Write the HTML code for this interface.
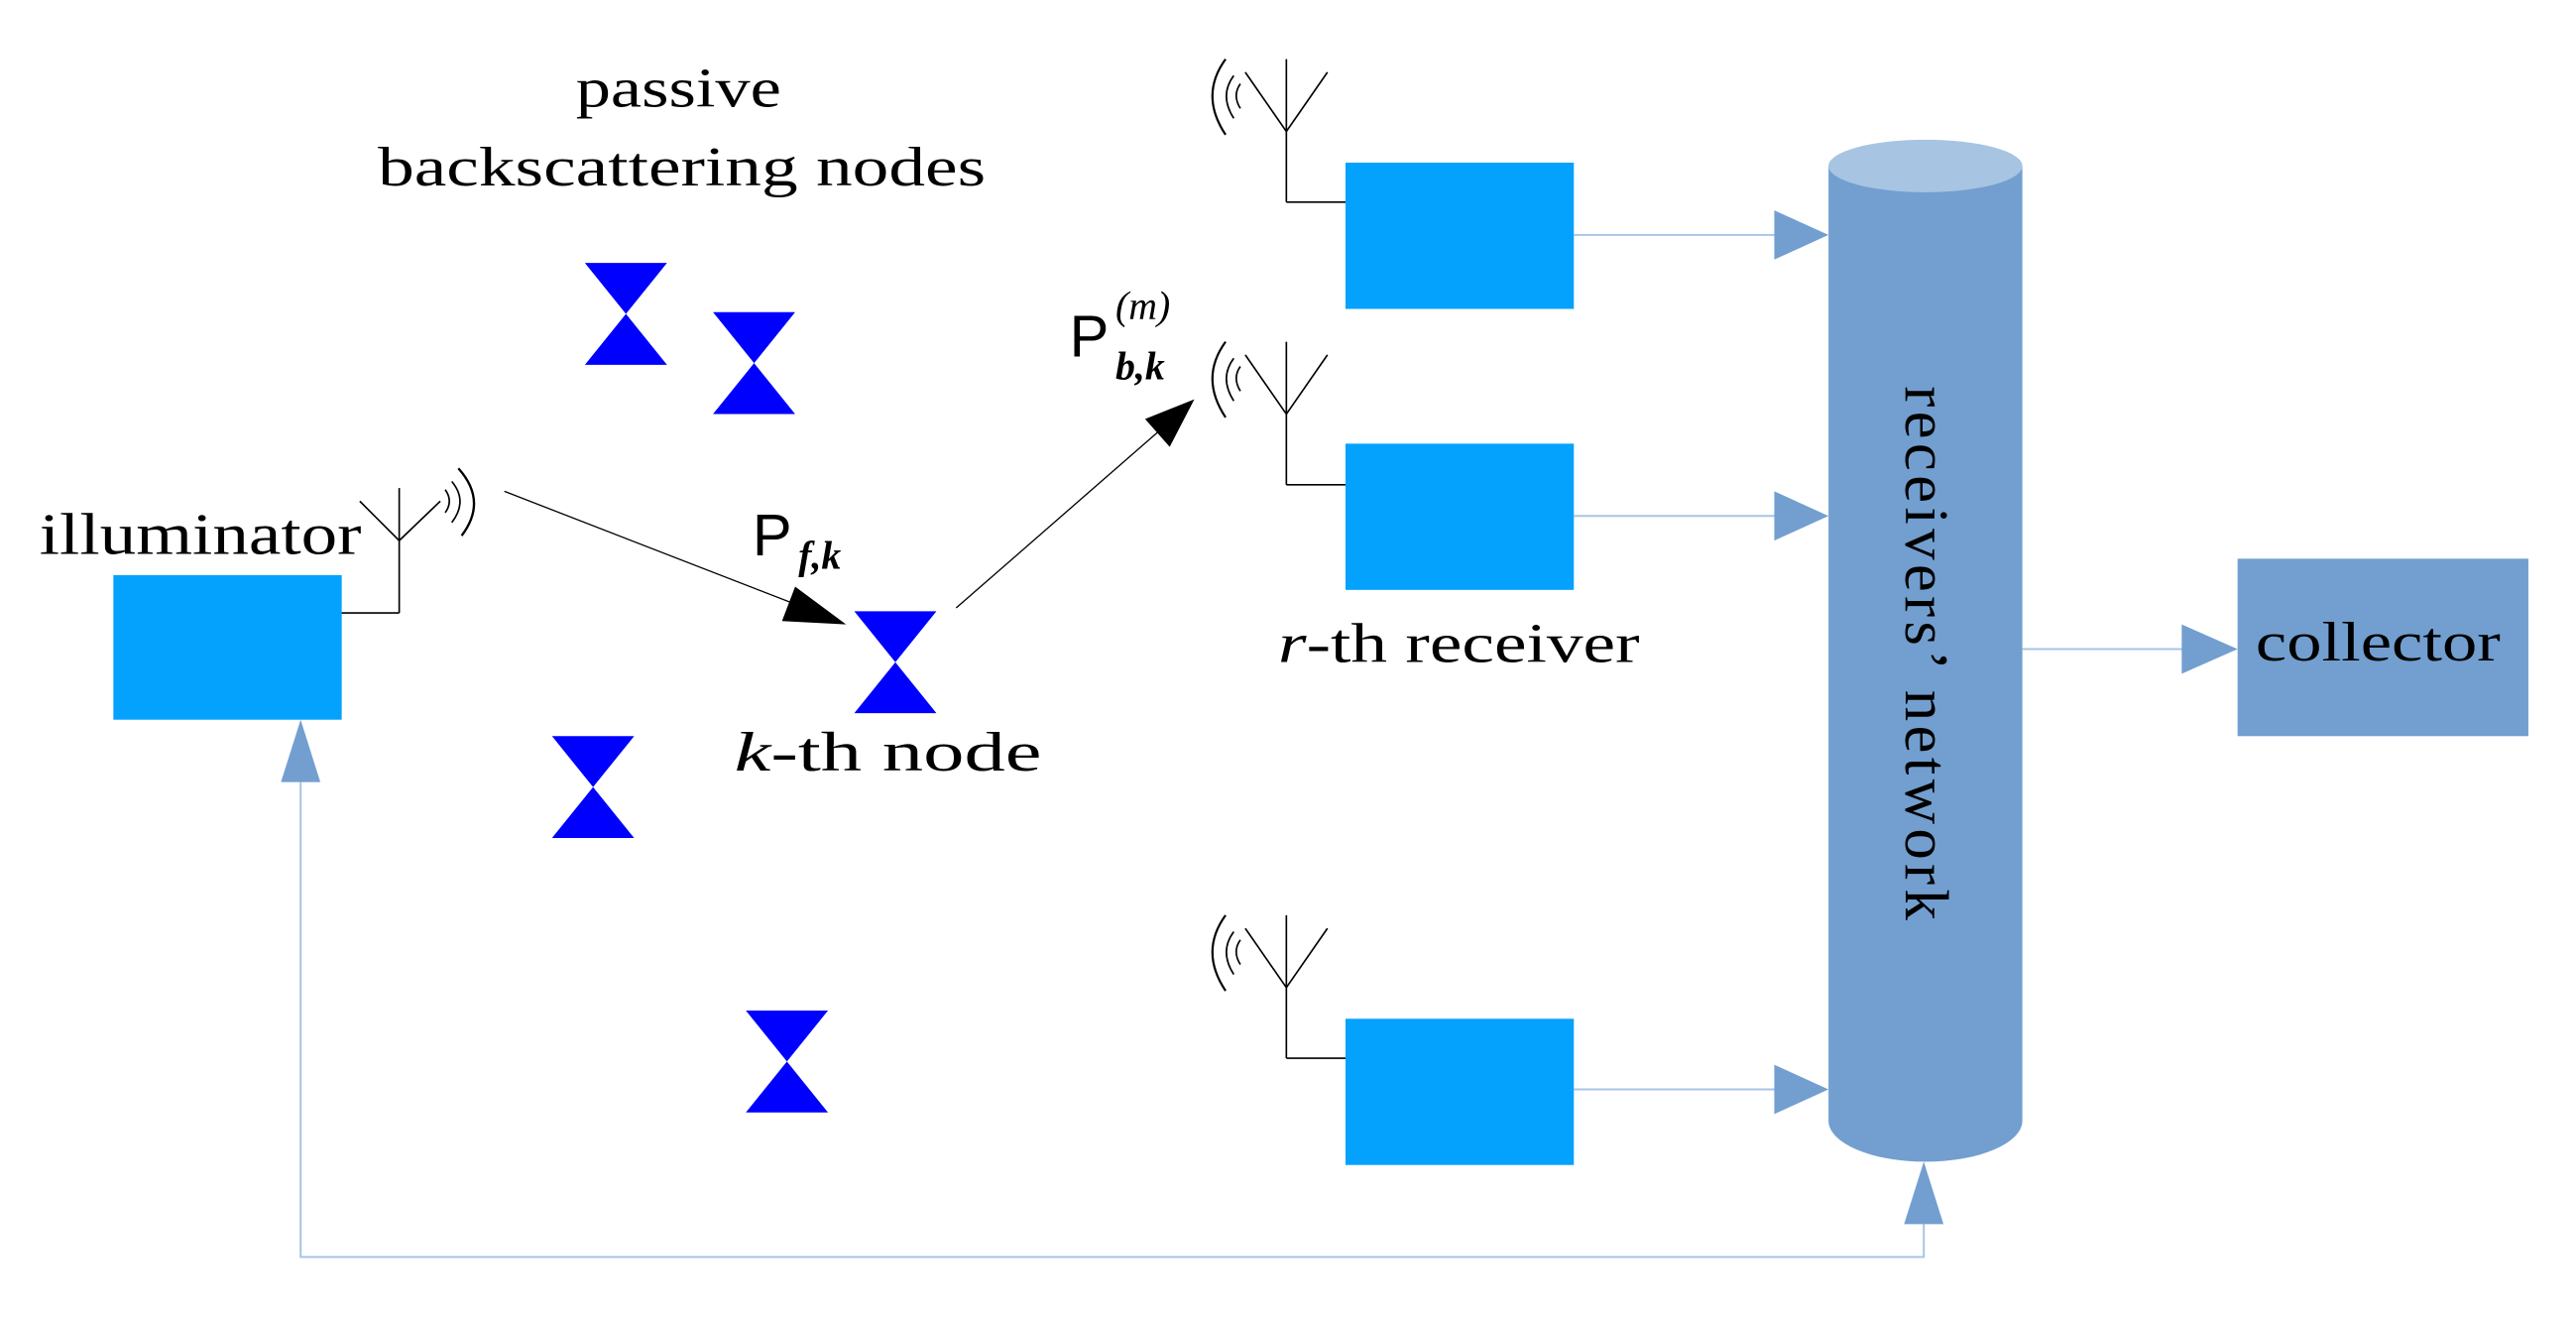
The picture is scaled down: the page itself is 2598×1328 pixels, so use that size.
<!DOCTYPE html>
<html><head><meta charset="utf-8"><style>html,body{margin:0;padding:0;background:#fff}svg{display:block}</style></head>
<body>
<svg width="2598" height="1328" viewBox="0 0 1568 801.5" xmlns="http://www.w3.org/2000/svg">
<defs>
<g id="bt"><polygon points="0,0 50,0 25,31" fill="#0000ff"/><polygon points="0,62 50,62 25,31" fill="#0000ff"/></g>
<g id="rxant" fill="none" stroke="#000" stroke-width="1">
<line x1="758" y1="0" x2="783" y2="36"/><line x1="808" y1="0" x2="783" y2="36"/><line x1="783" y1="-8" x2="783" y2="79"/><line x1="783" y1="79" x2="819" y2="79"/>
<path d="M746,-8 Q730,14 746,38" stroke-width="1.3"/><path d="M751,2 Q742,14 751,28"/><path d="M755,7 Q750,14 755,22"/>
</g>
</defs>
<g font-family="Liberation Serif, serif" fill="#000">
<text x="413" y="65" font-size="34" text-anchor="middle" textLength="125" lengthAdjust="spacingAndGlyphs">passive</text>
<text x="230" y="113" font-size="34" textLength="370" lengthAdjust="spacingAndGlyphs">backscattering nodes</text>
<text x="24" y="337" font-size="36" textLength="196" lengthAdjust="spacingAndGlyphs">illuminator</text>
<text x="447" y="469" font-size="34" textLength="187" lengthAdjust="spacingAndGlyphs"><tspan font-style="italic">k</tspan>-th node</text>
<text x="778" y="403" font-size="34" textLength="220" lengthAdjust="spacingAndGlyphs"><tspan font-style="italic">r</tspan>-th receiver</text>
</g>
<rect x="69" y="350" width="139" height="88" fill="#04a2fc"/>
<g fill="none" stroke="#000" stroke-width="1">
<line x1="219" y1="305" x2="243" y2="329"/><line x1="268" y1="305" x2="243" y2="329"/><line x1="243" y1="297" x2="243" y2="373"/><line x1="243" y1="373" x2="208" y2="373"/>
<path d="M279,285 Q297,305 281,326" stroke-width="1.4"/><path d="M275,293 Q285,305 275,318"/><path d="M271,298 Q276,305 271,312"/>
</g>
<use href="#bt" x="356" y="160"/><use href="#bt" x="434" y="190"/><use href="#bt" x="520" y="372"/><use href="#bt" x="336" y="448"/><use href="#bt" x="454" y="615"/>
<line x1="307" y1="299" x2="490" y2="370" stroke="#000" stroke-width="0.8"/>
<polygon points="515,380 476,378 484,357" fill="#000"/>
<line x1="582" y1="370" x2="707" y2="261" stroke="#000" stroke-width="0.8"/>
<polygon points="727,243 712,272 697,255" fill="#000"/>
<g font-family="Liberation Sans, sans-serif">
<text x="458" y="338" font-size="36">P</text>
<text x="486" y="346" font-size="24" font-style="italic" font-family="Liberation Serif, serif" font-weight="bold">f,k</text>
<text x="651" y="217" font-size="36">P</text>
<text x="679" y="194" font-size="24" font-style="italic" font-family="Liberation Serif, serif">(m)</text>
<text x="679" y="231" font-size="24" font-style="italic" font-family="Liberation Serif, serif" font-weight="bold">b,k</text>
</g>
<use href="#rxant" x="0" y="44"/>
<use href="#rxant" x="0" y="216"/>
<use href="#rxant" x="0" y="565"/>
<rect x="819" y="99" width="139" height="89" fill="#04a2fc"/>
<rect x="819" y="270" width="139" height="89" fill="#04a2fc"/>
<rect x="819" y="620" width="139" height="89" fill="#04a2fc"/>
<g stroke="#a9c4e4" stroke-width="1.2">
<line x1="958" y1="143" x2="1082" y2="143"/><line x1="958" y1="314" x2="1082" y2="314"/><line x1="958" y1="663" x2="1082" y2="663"/>
<line x1="1231" y1="395" x2="1330" y2="395"/>
<polyline points="1171,745 1171,765 183,765 183,476" fill="none"/>
</g>
<path d="M1113,101 L1113,682 A59,25 0 0 0 1231,682 L1231,101 Z" fill="#729fcf"/>
<ellipse cx="1172" cy="101" rx="59" ry="16" fill="#a7c4e2"/>
<g fill="#729fcf">
<polygon points="1113,143 1080,128 1080,158"/><polygon points="1113,314 1080,299 1080,329"/><polygon points="1113,663 1080,648 1080,678"/>
<polygon points="1362,395 1328,380 1328,410"/>
<polygon points="1171,707 1159,745 1183,745"/>
<polygon points="183,438 171,476 195,476"/>
</g>
<text transform="translate(1160,235) rotate(90)" font-family="Liberation Serif, serif" font-size="38" textLength="325" lengthAdjust="spacing">receivers’ network</text>
<rect x="1362" y="340" width="177" height="108" fill="#729fcf"/>
<text x="1373" y="402" font-family="Liberation Serif, serif" font-size="34" textLength="149" lengthAdjust="spacingAndGlyphs">collector</text>
</svg>
</body></html>
